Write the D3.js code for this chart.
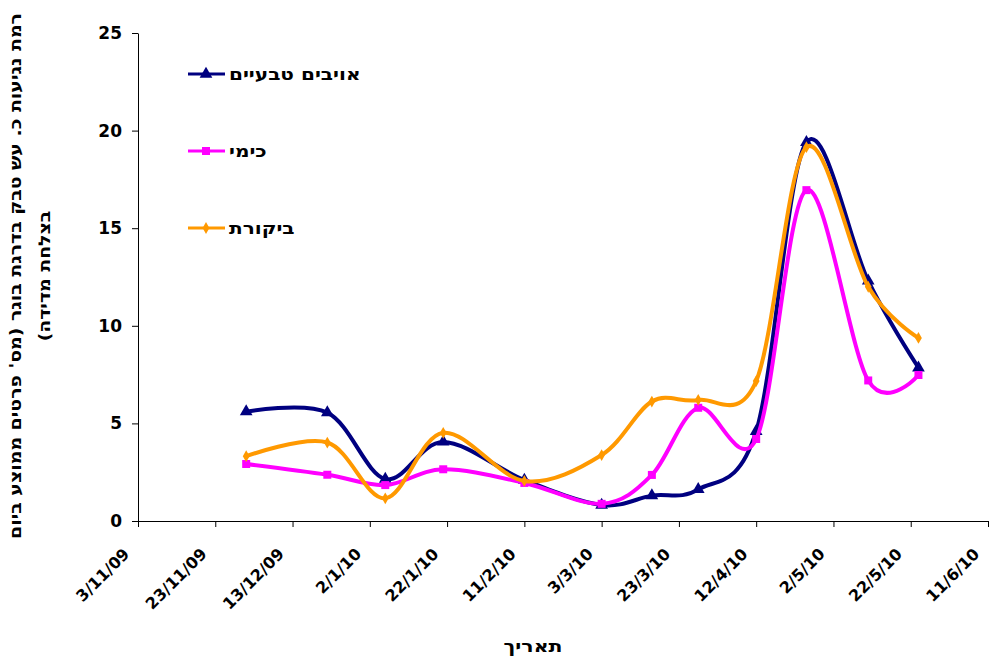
<!DOCTYPE html>
<html lang="he">
<head>
<meta charset="UTF-8">
<title>עש טבק</title>
<style>
  body { margin: 0; background: #fff; }
  svg text { font-family: "DejaVu Sans", "Liberation Sans", Arial, sans-serif; font-weight: bold; fill: #000; }
</style>
</head>
<body>
<script src="https://d3js.org/d3.v7.min.js"></script>
<div id="chart"></div>
<script>
  // data
  const dates = ['1/12/09', '22/12/09', '6/1/10', '21/1/10', '11/2/10', '3/3/10',
                 '16/3/10', '28/3/10', '12/4/10', '25/4/10', '11/5/10', '24/5/10']
  const naturalEnemies = [5.6, 5.55, 2.15, 4.05, 2.1, 0.82, 1.3, 1.62, 4.6, 19.4, 12.3, 7.85]
  const chemical = [2.92, 2.37, 1.84, 2.65, 1.95, 0.88, 2.36, 5.8, 4.2, 16.95, 7.2, 7.48]
  const control = [3.32, 4.02, 1.16, 4.52, 2.05, 3.38, 6.12, 6.2, 7.17, 19.15, 12.0, 9.38]
  const seriesNames = ['אויבים טבעיים', 'כימי', 'ביקורת']
  const xTickLabels = ['3/11/09', '23/11/09', '13/12/09', '2/1/10', '22/1/10', '11/2/10',
                       '3/3/10', '23/3/10', '12/4/10', '2/5/10', '22/5/10', '11/6/10']
  const yTicks = [0, 5, 10, 15, 20, 25]

  const parse = d3.timeParse('%d/%m/%y')
  const fmt = d3.timeFormat('%-d/%-m/%y')

  const width = 989, height = 657
  const plotLeft = 138, plotRight = 988, plotTop = 33, plotBottom = 521

  // the hebrew text in the original is drawn a bit wider than our fonts
  const stretch = (sel, k) => sel.each(function () {
    const len = this.getComputedTextLength()
    d3.select(this).attr('textLength', len * k).attr('lengthAdjust', 'spacingAndGlyphs')
  })

  const tickDates = xTickLabels.map(parse)

  const x = d3.scaleTime()
    .domain(d3.extent(tickDates))
    .range([plotLeft, plotRight])
  const y = d3.scaleLinear()
    .domain([0, 25])
    .range([plotBottom, plotTop])

  const series = [
    {name: seriesNames[0], values: naturalEnemies, color: '#000080', marker: 'triangle'},
    {name: seriesNames[1], values: chemical, color: '#ff00ff', marker: 'square'},
    {name: seriesNames[2], values: control, color: '#ff9900', marker: 'diamond'}
  ]

  const svg = d3.select('#chart')
    .append('svg')
    .attr('width', width)
    .attr('height', height)

  // axes ====================================================================
  const yAxis = svg.append('g')
    .attr('transform', `translate(${plotLeft},0)`)
    .call(d3.axisLeft(y).tickValues(yTicks).tickSize(6).tickSizeOuter(0).tickPadding(10))
  yAxis.select('.domain').attr('stroke', '#000')
  yAxis.selectAll('text')
    .style('font-size', '17px')

  const xAxis = svg.append('g')
    .attr('transform', `translate(0,${plotBottom})`)
    .call(d3.axisBottom(x).tickValues(tickDates).tickFormat(fmt).tickSizeOuter(0).tickSize(6))
  xAxis.select('.domain').attr('stroke', '#000')
  xAxis.selectAll('text')
    .style('font-size', '16px')
    .attr('text-anchor', 'end')
    .attr('dy', null)
    .attr('y', 0)
    .attr('transform', 'translate(-8,34) rotate(-45)')

  // axis titles
  const yTitle1 = svg.append('text')
    .attr('transform', 'translate(21,276) rotate(-90)')
    .attr('text-anchor', 'middle')
    .attr('direction', 'rtl')
    .style('font-size', '16px')
    .text("רמת נגיעות כ. עש טבק בדרגת בוגר (מס' פרטים ממוצע ביום")
  const yTitle2 = svg.append('text')
    .attr('transform', 'translate(50,276) rotate(-90)')
    .attr('text-anchor', 'middle')
    .attr('direction', 'rtl')
    .style('font-size', '16px')
    .text('בצלחת מדידה)')
  stretch(yTitle1, 1.18)
  stretch(yTitle2, 1.18)

  const xTitle = svg.append('text')
    .attr('x', 533)
    .attr('y', 652)
    .attr('text-anchor', 'middle')
    .style('font-size', '17px')
    .text('תאריך')
  stretch(xTitle, 1.2)

  // markers =================================================================
  const symbolType = {
    triangle: d3.symbolTriangle,
    square: d3.symbolSquare,
    diamond: d3.symbolDiamond
  }
  const symbolSize = {triangle: 70, square: 64, diamond: 40}

  // lines ===================================================================
  const line = d3.line()
    .x(d => x(d.date))
    .y(d => y(d.value))
    .curve(d3.curveCardinal.tension(0))

  series.forEach(s => {
    const pts = s.values.map((v, i) => ({date: parse(dates[i]), value: v}))
    const g = svg.append('g')
    g.append('path')
      .datum(pts)
      .attr('d', line)
      .attr('fill', 'none')
      .attr('stroke', s.color)
      .attr('stroke-width', 4)
    g.selectAll('path.mark')
      .data(pts)
      .join('path')
      .attr('class', 'mark')
      .attr('transform', d => `translate(${x(d.date)},${y(d.value)})`)
      .attr('d', d3.symbol().type(symbolType[s.marker]).size(symbolSize[s.marker]))
      .attr('fill', s.color)
  })

  // legend ==================================================================
  const legendY = [74, 151, 228]
  const legend = svg.append('g')
  series.forEach((s, i) => {
    legend.append('line')
      .attr('x1', 188).attr('x2', 225)
      .attr('y1', legendY[i]).attr('y2', legendY[i])
      .attr('stroke', s.color)
      .attr('stroke-width', 3)
    legend.append('path')
      .attr('transform', `translate(206,${legendY[i]})`)
      .attr('d', d3.symbol().type(symbolType[s.marker]).size(symbolSize[s.marker]))
      .attr('fill', s.color)
    const t = legend.append('text')
      .attr('x', 229)
      .attr('y', legendY[i] + 6)
      .style('font-size', '17px')
      .text(s.name)
    stretch(t, 1.18)
  })
</script>
</body>
</html>
